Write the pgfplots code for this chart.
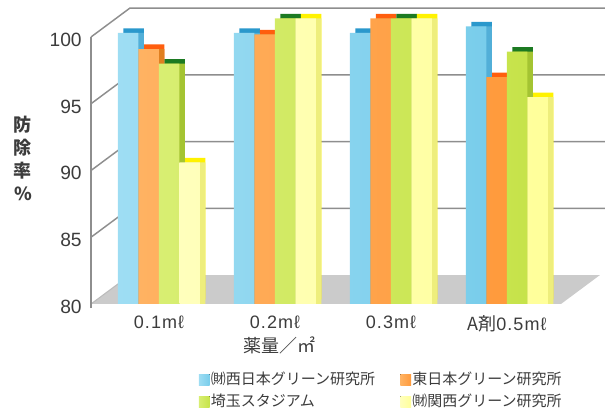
\documentclass[border=0pt]{standalone}
\usepackage{fontspec}
\setmainfont{Liberation Sans}
\newfontfamily\jp{Noto Sans CJK JP}
\usepackage{pgfplots}
\usepackage{pgfplotstable}
\pgfplotsset{compat=1.18}

% control rate (%) per dose and institute
\pgfplotstableread{
x   b      o      g      y
0   100.3  99.1   98.0   90.6
1   100.3  100.2  101.4  101.4
2   100.3  101.4  101.4  101.4
3   100.8  97.0   98.9   95.5
}\data

\definecolor{blueF}{HTML}{79CDEB}
\definecolor{blueL}{HTML}{9EDDF3}
\definecolor{blueT}{HTML}{2A98CC}
\definecolor{blueS}{HTML}{52AFD8}
\definecolor{orangeF}{HTML}{FF9A3C}
\definecolor{orangeL}{HTML}{FFB262}
\definecolor{orangeT}{HTML}{FF5E0E}
\definecolor{orangeS}{HTML}{E07F20}
\definecolor{greenF}{HTML}{C6E34A}
\definecolor{greenL}{HTML}{D8EE72}
\definecolor{greenT}{HTML}{1C7A22}
\definecolor{greenS}{HTML}{A4C432}
\definecolor{yellowF}{HTML}{FFFF9A}
\definecolor{yellowL}{HTML}{FFFFBC}
\definecolor{yellowT}{HTML}{FFF200}
\definecolor{yellowS}{HTML}{EEEE7C}
\definecolor{gridc}{HTML}{8E8E8E}
\definecolor{floorc}{HTML}{CBCBCB}
\definecolor{tickc}{HTML}{3C3C3C}

\pgfplotsset{
  barbase/.style={ybar, bar width=0.1767, draw=none,
    legend image code/.code={\fill[##1] (0pt,-4pt) rectangle (8pt,4.5pt);}},
  topface/.style={barbase, fill=#1, xshift=4.1pt, yshift=3.4pt, forget plot},
  sideface/.style={barbase, fill=#1, xshift=4.1pt, forget plot},
}

\begin{document}
\begin{tikzpicture}
\path[use as bounding box] (-68.25pt,-79.5pt) rectangle (387pt,228pt);
\begin{axis}[
  at={(0pt,0pt)}, anchor=south west,
  scale only axis, width=352.5pt, height=200.25pt,
  xmin=-0.586, xmax=3.466, ymin=80, ymax=100,
  clip=false,
  axis lines=left, axis line style={draw=none},
  major tick length=0pt, tick style={draw=none},
  xtick={0,1,2,3},
  xticklabels={0.1mℓ,0.2mℓ,0.3mℓ,{{\jp A剤}0.5mℓ}},
  ytick={80,85,90,95,100},
  yticklabels={80,85,90,95,100},
  yticklabel style={font=\fontsize{14.4pt}{16pt}\selectfont, text=tickc, xshift=-3.5pt, yshift=-2pt},
  xticklabel style={font=\addfontfeature{LetterSpace=6}\fontsize{13.5pt}{15pt}\selectfont, text=tickc, yshift=-5.25pt},
  legend columns=2,
  legend cell align=left,
  legend style={at={(rel axis cs:0.229,-0.250)}, anchor=north west,
    draw=none, fill=none, inner sep=0pt,
    font=\jp\fontsize{11.25pt}{13pt}\selectfont, text=tickc,
    row sep=3pt,
    nodes={inner sep=1pt, text height=9pt, text depth=2.5pt},
    /tikz/every even column/.append style={column sep=18pt}},
]
% floor
\fill[floorc] (axis cs:-0.586,80) -- (axis cs:3.466,80) -- (axis cs:3.802,82.17) -- (axis cs:-0.250,82.17) -- cycle;
% back wall grid lines and side wall edges
\draw[gridc, line width=1.1pt] (axis cs:-0.586,100) -- (axis cs:-0.250,102.17) -- (axis cs:3.845,102.17);
\draw[gridc, line width=1.1pt] (axis cs:-0.586,95) -- (axis cs:-0.250,97.17) -- (axis cs:3.845,97.17);
\draw[gridc, line width=1.1pt] (axis cs:-0.586,90) -- (axis cs:-0.250,92.17) -- (axis cs:3.845,92.17);
\draw[gridc, line width=1.1pt] (axis cs:-0.586,85) -- (axis cs:-0.250,87.17) -- (axis cs:3.845,87.17);
\draw[gridc!60, line width=0.8pt] (axis cs:-0.586,80) -- (axis cs:-0.250,82.17);
\draw[gridc, line width=1.1pt] (axis cs:-0.586,79.7) -- (axis cs:-0.586,100);

% top faces
\addplot[topface=blueT,   bar shift=-0.265]  table[x=x,y=b]{\data};
\addplot[topface=orangeT, bar shift=-0.0884] table[x=x,y=o]{\data};
\addplot[topface=greenT,  bar shift=0.0884]  table[x=x,y=g]{\data};
\addplot[topface=yellowT, bar shift=0.265]   table[x=x,y=y]{\data};
% side faces
\addplot[sideface=blueS,   bar shift=-0.265]  table[x=x,y=b]{\data};
\addplot[sideface=orangeS, bar shift=-0.0884] table[x=x,y=o]{\data};
\addplot[sideface=greenS,  bar shift=0.0884]  table[x=x,y=g]{\data};
\addplot[sideface=yellowS, bar shift=0.265]   table[x=x,y=y]{\data};
% front faces
\addplot[barbase, bar shift=-0.265,  left color=blueL,   right color=blueF]   table[x=x,y=b]{\data};
\addplot[barbase, bar shift=-0.0884, left color=orangeL, right color=orangeF] table[x=x,y=o]{\data};
\addplot[barbase, bar shift=0.0884,  left color=greenL,  right color=greenF]  table[x=x,y=g]{\data};
\addplot[barbase, bar shift=0.265,   left color=yellowL, right color=yellowF] table[x=x,y=y]{\data};
\legend{㈶西日本グリーン研究所,東日本グリーン研究所,埼玉スタジアム,㈶関西グリーン研究所}

\node[anchor=west, inner sep=0pt, font=\jp\fontsize{13.5pt}{15pt}\selectfont, text=tickc] at (axis cs:0.724,76.9) {薬量／㎡};
\node[align=center, font=\jp\bfseries\fontsize{13.5pt}{17.25pt}\selectfont, text=tickc] at (rel axis cs:-0.1447,0.5468) {防\\除\\率\\\%};
\end{axis}
\end{tikzpicture}
\end{document}
